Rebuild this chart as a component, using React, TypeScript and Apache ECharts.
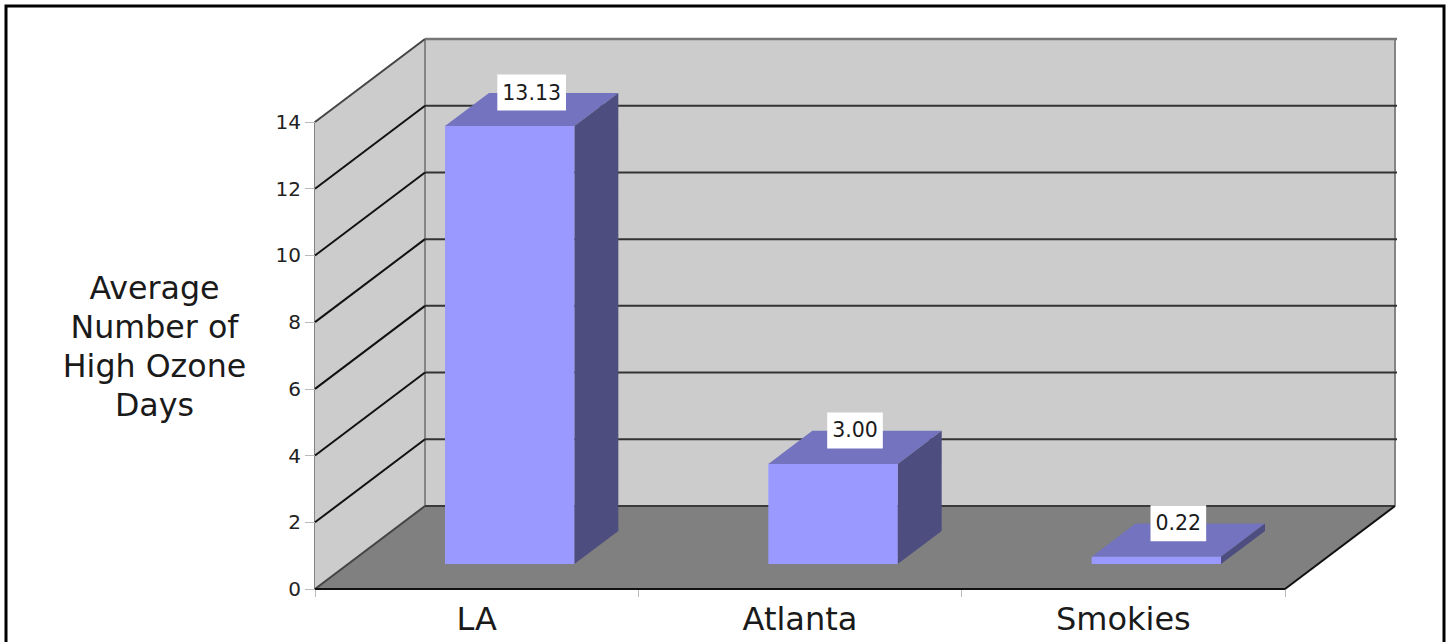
import React, { useEffect, useRef } from "react";
import * as echarts from "echarts";

const categories = ["LA", "Atlanta", "Smokies"];
const ozoneDays = [13.13, 3.0, 0.22];
const yTicks = [0, 2, 4, 6, 8, 10, 12, 14];
const yAxisTitle = ["Average", "Number of", "High Ozone", "Days"];

const FONT = '"DejaVu Sans", sans-serif';
const DEPTH_X = 110;
const DEPTH_Y = -83;
const BAR_WIDTH_SHARE = 0.4;
const BAR_FRONT_SHARE = 0.3;
const BAR_DEPTH_SHARE = 0.4;

const COLORS = {
  wall: "#cccccc",
  wallEdge: "#858585",
  floor: "#808080",
  front: "#9999ff",
  top: "#7373bf",
  side: "#4d4d80",
  grid: "#111111",
  gridBack: "#333333",
};

const poly = (points: number[][], fill: string) => ({
  type: "polygon",
  silent: true,
  shape: { points },
  style: { fill, stroke: null },
});

const seg = (a: number[], b: number[], stroke: string, lineWidth = 2) => ({
  type: "line",
  silent: true,
  shape: { x1: a[0], y1: a[1], x2: b[0], y2: b[1] },
  style: { stroke, lineWidth },
});

// Walls and floor of the 3D box behind the bars.
const renderBox = (params: any, api: any) => {
  const { x, width } = params.coordSys;
  const y0 = api.coord([0, 0])[1];
  const yMax = api.coord([0, yTicks[yTicks.length - 1]])[1];
  const right = x + width;
  return {
    type: "group",
    children: [
      poly([[x, y0], [x + DEPTH_X, y0 + DEPTH_Y], [x + DEPTH_X, yMax + DEPTH_Y], [x, yMax]], COLORS.wall),
      poly(
        [[x + DEPTH_X, yMax + DEPTH_Y], [right + DEPTH_X, yMax + DEPTH_Y], [right + DEPTH_X, y0 + DEPTH_Y], [x + DEPTH_X, y0 + DEPTH_Y]],
        COLORS.wall,
      ),
      seg([x + DEPTH_X, yMax + DEPTH_Y], [x + DEPTH_X, y0 + DEPTH_Y], COLORS.wallEdge),
      seg([right + DEPTH_X, yMax + DEPTH_Y], [right + DEPTH_X, y0 + DEPTH_Y], COLORS.wallEdge),
      seg([x, yMax], [x + DEPTH_X, yMax + DEPTH_Y], "#444444"),
      seg([x + DEPTH_X, yMax + DEPTH_Y], [right + DEPTH_X + 2, yMax + DEPTH_Y], "#777777", 2.5),
    ],
  };
};

// One gridline per tick, running along the side wall and then the back wall.
const renderGrid = (params: any, api: any) => {
  const tick = api.value(1);
  const { x, width } = params.coordSys;
  const y = api.coord([0, tick])[1];
  if (tick === 0 || tick === yTicks[yTicks.length - 1]) return { type: "group", children: [] };
  return {
    type: "group",
    children: [
      seg([x, y], [x + DEPTH_X, y + DEPTH_Y], COLORS.grid),
      seg([x + DEPTH_X, y + DEPTH_Y], [x + width + DEPTH_X + 2, y + DEPTH_Y], COLORS.gridBack),
    ],
  };
};

const renderFloor = (params: any, api: any) => {
  const { x, width } = params.coordSys;
  const y0 = api.coord([0, 0])[1];
  const right = x + width;
  return {
    type: "group",
    children: [
      poly([[x, y0], [right, y0], [right + DEPTH_X, y0 + DEPTH_Y], [x + DEPTH_X, y0 + DEPTH_Y]], COLORS.floor),
      seg([x + DEPTH_X, y0 + DEPTH_Y], [right + DEPTH_X, y0 + DEPTH_Y], "#3a3a3a"),
      seg([x, y0], [x + DEPTH_X, y0 + DEPTH_Y], "#444444"),
      seg([right, y0], [right + DEPTH_X, y0 + DEPTH_Y], "#111111"),
      seg([x, y0], [right, y0], "#111111"),
    ],
  };
};

const renderBar = (_params: any, api: any) => {
  const idx = api.value(0);
  const val = api.value(1);
  const band = api.size([1, 0])[0];
  const cx = api.coord([idx, 0])[0];
  const y0 = api.coord([idx, 0])[1];
  const yTop = api.coord([idx, val])[1];
  const halfW = (band * BAR_WIDTH_SHARE) / 2;
  const ox = DEPTH_X * BAR_FRONT_SHARE;
  const oy = DEPTH_Y * BAR_FRONT_SHARE;
  const dx = DEPTH_X * BAR_DEPTH_SHARE;
  const dy = DEPTH_Y * BAR_DEPTH_SHARE;
  const l = cx - halfW + ox;
  const r = cx + halfW + ox;
  const b = y0 + oy;
  const t = yTop + oy;
  return {
    type: "group",
    children: [
      poly([[l, t], [r, t], [r + dx, t + dy], [l + dx, t + dy]], COLORS.top),
      poly([[r, t], [r + dx, t + dy], [r + dx, b + dy], [r, b]], COLORS.side),
      poly([[l, t], [r, t], [r, b], [l, b]], COLORS.front),
    ],
  };
};

// Value tags sit on a white box just above the centre of each bar's top face.
const renderTag = (_params: any, api: any) => {
  const idx = api.value(0);
  const val = api.value(1);
  const [cx, yTop] = api.coord([idx, val]);
  const px = cx + DEPTH_X * (BAR_FRONT_SHARE + BAR_DEPTH_SHARE / 2);
  const py = yTop + DEPTH_Y * (BAR_FRONT_SHARE + BAR_DEPTH_SHARE / 2) - 17;
  return {
    type: "text",
    silent: true,
    x: px,
    y: py,
    style: {
      text: val.toFixed(2),
      font: `20.5px ${FONT}`,
      fill: "#1a1a1a",
      align: "center",
      verticalAlign: "middle",
      backgroundColor: "#ffffff",
      padding: [8, 5, 7, 5],
    },
  };
};

export default function App() {
  const ref = useRef<HTMLDivElement>(null);

  useEffect(() => {
    document.body.style.margin = "0";
    document.body.style.overflow = "hidden";
    const chart = echarts.init(ref.current!, undefined, { renderer: "svg" });
    const barData = ozoneDays.map((v, i) => [i, v]);
    const common = { type: "custom", coordinateSystem: "cartesian2d", clip: false, silent: true };
    chart.setOption({
      animation: false,
      backgroundColor: "#ffffff",
      grid: { left: 315, top: 122, width: 970, height: 467, containLabel: false },
      xAxis: {
        type: "category",
        data: categories,
        boundaryGap: true,
        axisLine: { show: false },
        axisTick: { show: true, alignWithLabel: false, length: 8, lineStyle: { color: "#bbbbbb", width: 1 } },
        axisLabel: { color: "#1a1a1a", fontFamily: FONT, fontSize: 32, margin: 14 },
        splitLine: { show: false },
      },
      yAxis: {
        type: "value",
        min: 0,
        max: 14,
        interval: 2,
        axisLine: { show: true, lineStyle: { color: COLORS.wallEdge, width: 2 } },
        axisTick: { show: true, length: 10, lineStyle: { color: "#bbbbbb", width: 1 } },
        axisLabel: { color: "#222222", fontFamily: FONT, fontSize: 20, margin: 14 },
        splitLine: { show: false },
      },
      graphic: [
        {
          type: "rect",
          silent: true,
          z: 50,
          shape: { x: 6, y: 6, width: 1438, height: 660 },
          style: { fill: "none", stroke: "#000000", lineWidth: 3 },
        },
        {
          type: "text",
          silent: true,
          x: 154.5,
          y: 346,
          style: {
            text: yAxisTitle.join("\n"),
            font: `31.7px ${FONT}`,
            lineHeight: 39,
            fill: "#1a1a1a",
            align: "center",
            verticalAlign: "middle",
          },
        },
      ],
      series: [
        { ...common, name: "box", renderItem: renderBox, data: [[0, 0]], z: 1 },
        { ...common, name: "grid", renderItem: renderGrid, data: yTicks.map((t) => [0, t]), z: 2 },
        { ...common, name: "floor", renderItem: renderFloor, data: [[0, 0]], z: 3 },
        { ...common, name: "bars", renderItem: renderBar, data: barData, z: 4 },
        { ...common, name: "tags", renderItem: renderTag, data: barData, z: 5 },
      ],
    });
    return () => chart.dispose();
  }, []);

  return <div ref={ref} style={{ width: 1449, height: 642 }} />;
}
